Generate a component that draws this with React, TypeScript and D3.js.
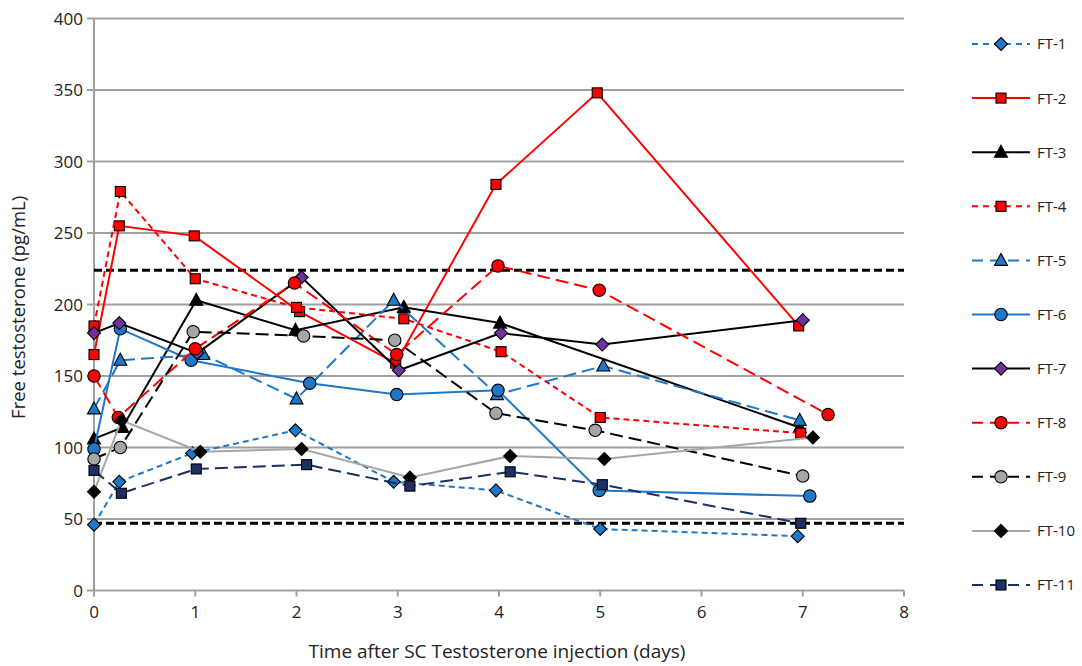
import React from "react";
import * as d3 from "d3";

const seriesNames = ["FT-1","FT-2","FT-3","FT-4","FT-5","FT-6","FT-7","FT-8","FT-9","FT-10","FT-11"];

const ft1Days = [0, 0.25, 0.97, 1.99, 2.96, 3.97, 5.0, 6.95];
const ft1Vals = [46, 76, 96, 112, 76, 70, 43, 38];
const ft2Days = [0, 0.25, 0.99, 2.03, 2.98, 3.97, 4.97, 6.96];
const ft2Vals = [165, 255, 248, 195, 159, 284, 348, 185];
const ft3Days = [0, 0.28, 1.01, 1.99, 3.06, 4.01, 6.97];
const ft3Vals = [106, 114, 203, 182, 198, 187, 114];
const ft4Days = [0, 0.26, 1.0, 2.0, 3.06, 4.02, 5.0, 6.98];
const ft4Vals = [185, 279, 218, 198, 190, 167, 121, 110];
const ft5Days = [0, 0.26, 1.08, 2.0, 2.96, 3.98, 5.03, 6.97];
const ft5Vals = [127, 161, 165, 134, 203, 137, 157, 119];
const ft6Days = [0, 0.26, 0.96, 2.13, 2.99, 3.99, 4.99, 7.07];
const ft6Vals = [99, 183, 161, 145, 137, 140, 70, 66];
const ft7Days = [0, 0.25, 1.02, 2.05, 3.01, 4.02, 5.02, 7.0];
const ft7Vals = [180, 187, 166, 219, 154, 180, 172, 189];
const ft8Days = [0, 0.24, 1.0, 1.98, 2.99, 3.99, 4.99, 7.25];
const ft8Vals = [150, 121, 169, 215, 165, 227, 210, 123];
const ft9Days = [0, 0.26, 0.98, 2.07, 2.97, 3.97, 4.95, 7.0];
const ft9Vals = [92, 100, 181, 178, 175, 124, 112, 80];
const ft10Days = [0, 0.27, 1.05, 2.05, 3.12, 4.11, 5.04, 7.1];
const ft10Vals = [69, 119, 97, 99, 79, 94, 92, 107];
const ft11Days = [0, 0.27, 1.01, 2.1, 3.12, 4.11, 5.02, 6.98];
const ft11Vals = [84, 68, 85, 88, 73, 83, 74, 47];

const refLimits = [224, 47];
const yTicks = [0, 50, 100, 150, 200, 250, 300, 350, 400];
const xTicks = [0, 1, 2, 3, 4, 5, 6, 7, 8];

const RED = "#ff0000";
const BLUE = "#1f77c8";
const NAVY = "#1c2f66";
const GREY = "#a6a6a6";
const PURPLE = "#7030a0";
const GREY_FILL = "#a6a6a6";

type Style = { stroke: string; dash: string; marker: string; fill: string };
const styles: Style[] = [
  { stroke: BLUE, dash: "6,4", marker: "diamond", fill: BLUE },
  { stroke: RED, dash: "", marker: "square", fill: RED },
  { stroke: "#000", dash: "", marker: "triangle", fill: "#000" },
  { stroke: RED, dash: "6,4", marker: "square", fill: RED },
  { stroke: BLUE, dash: "13,6", marker: "triangle", fill: BLUE },
  { stroke: BLUE, dash: "", marker: "circle", fill: BLUE },
  { stroke: "#000", dash: "", marker: "diamond", fill: PURPLE },
  { stroke: RED, dash: "13,6", marker: "circle", fill: RED },
  { stroke: "#000", dash: "13,6", marker: "circle", fill: GREY_FILL },
  { stroke: GREY, dash: "", marker: "diamond", fill: "#000" },
  { stroke: NAVY, dash: "13,6", marker: "square", fill: NAVY },
];

const dayArrays = [ft1Days, ft2Days, ft3Days, ft4Days, ft5Days, ft6Days, ft7Days, ft8Days, ft9Days, ft10Days, ft11Days];
const valArrays = [ft1Vals, ft2Vals, ft3Vals, ft4Vals, ft5Vals, ft6Vals, ft7Vals, ft8Vals, ft9Vals, ft10Vals, ft11Vals];

const W = 1082, H = 666;
const x = d3.scaleLinear().domain([0, 8]).range([94, 904]);
const y = d3.scaleLinear().domain([0, 400]).range([590.5, 18.5]);

function Marker({ type, cx, cy, fill }: { type: string; cx: number; cy: number; fill: string }) {
  const sw = 1.1;
  if (type === "square") return <rect x={cx - 5} y={cy - 5} width={10} height={10} fill={fill} stroke="#000" strokeWidth={sw} />;
  if (type === "circle") return <circle cx={cx} cy={cy} r={6.2} fill={fill} stroke="#000" strokeWidth={sw} />;
  if (type === "diamond") return <path d={`M${cx},${cy - 6.5}L${cx + 6.5},${cy}L${cx},${cy + 6.5}L${cx - 6.5},${cy}Z`} fill={fill} stroke="#000" strokeWidth={sw} />;
  return <path d={`M${cx},${cy - 7}L${cx + 6.5},${cy + 5}L${cx - 6.5},${cy + 5}Z`} fill={fill} stroke="#000" strokeWidth={sw} />;
}

export default function App() {
  const line = d3.line<[number, number]>().x(d => x(d[0])).y(d => y(d[1]));
  const font = "'Open Sans', 'Liberation Sans', sans-serif";
  return (
    <svg width={W} height={H} style={{ position: "absolute", left: 0, top: 0, background: "#fff" }} fontFamily={font}>
      <rect width={W} height={H} fill="#fff" />
      {yTicks.map(t => (
        <g key={"y" + t}>
          {t > 0 && <line x1={x(0)} x2={x(8)} y1={y(t)} y2={y(t)} stroke="#a0a0a0" strokeWidth={2} />}
          <line x1={x(0) - 7} x2={x(0)} y1={y(t)} y2={y(t)} stroke="#a0a0a0" strokeWidth={2} />
          <text x={x(0) - 11} y={y(t)} dy="0.36em" textAnchor="end" fontSize={17} fill="#222">{t}</text>
        </g>
      ))}
      {xTicks.map(t => (
        <g key={"x" + t}>
          <line x1={x(t)} x2={x(t)} y1={y(0)} y2={y(0) + 6} stroke="#a0a0a0" strokeWidth={2} />
          <text x={x(t)} y={y(0) + 27} textAnchor="middle" fontSize={17} fill="#222">{t}</text>
        </g>
      ))}
      <line x1={x(0)} x2={x(0)} y1={y(400)} y2={y(0)} stroke="#a0a0a0" strokeWidth={2} />
      <line x1={x(0)} x2={x(8)} y1={y(0)} y2={y(0)} stroke="#a0a0a0" strokeWidth={2} />
      {refLimits.map(v => (
        <line key={"r" + v} x1={x(0)} x2={x(8)} y1={y(v)} y2={y(v)} stroke="#000" strokeWidth={3} strokeDasharray="8,4" />
      ))}
      {styles.map((s, i) => {
        const pts = dayArrays[i].map((d, j) => [d, valArrays[i][j]] as [number, number]);
        return (
          <g key={"s" + i}>
            <path d={line(pts) || ""} fill="none" stroke={s.stroke} strokeWidth={2} strokeDasharray={s.dash || undefined} />
            {pts.map((p, j) => <Marker key={j} type={s.marker} cx={x(p[0])} cy={y(p[1])} fill={s.fill} />)}
          </g>
        );
      })}
      {seriesNames.map((n, i) => {
        const s = styles[i];
        const ly = 44 + i * 54.1;
        return (
          <g key={"l" + i}>
            <line x1={972} x2={1030} y1={ly} y2={ly} stroke={s.stroke} strokeWidth={2} strokeDasharray={s.dash ? (s.dash === "6,4" ? "6,5" : "11,7") : undefined} />
            <Marker type={s.marker} cx={1001} cy={ly} fill={s.fill} />
            <text x={1037} y={ly} dy="0.36em" fontSize={15} fill="#222">{n}</text>
          </g>
        );
      })}
      <text x={497} y={658} textAnchor="middle" fontSize={19} fill="#222">Time after SC Testosterone injection (days)</text>
      <text transform={`translate(25,${y(198)}) rotate(-90)`} textAnchor="middle" fontSize={18.5} fill="#222">Free testosterone (pg/mL)</text>
    </svg>
  );
}
